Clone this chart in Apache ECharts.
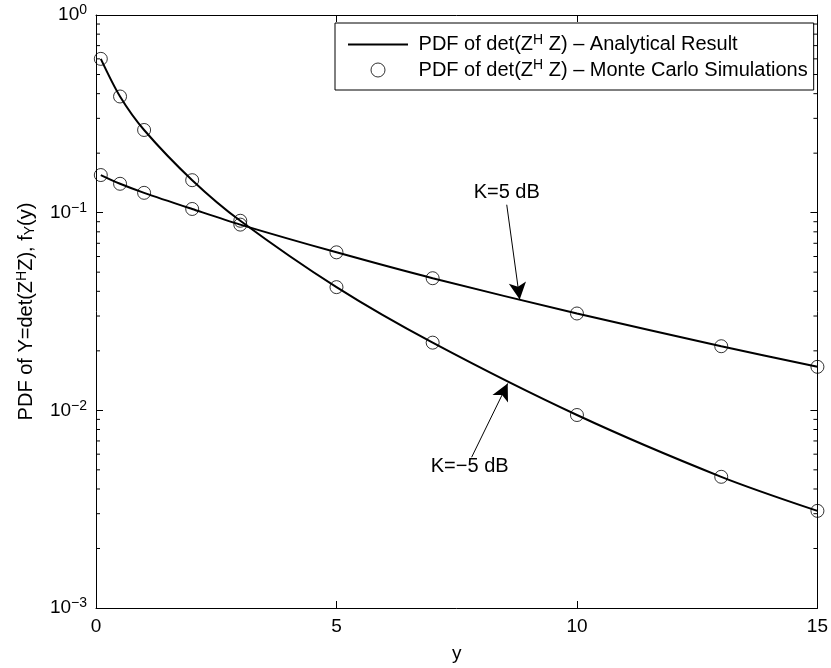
<!DOCTYPE html>
<html>
<head>
<meta charset="utf-8">
<script src="https://cdn.jsdelivr.net/npm/echarts@6/dist/echarts.min.js"></script>
<style>html,body{margin:0;padding:0;background:#fff;}#c{width:831px;height:668px;}</style>
</head>
<body>
<div id="c"></div>
<script>
// ---- data ----
const yPoints = [0.1, 0.5, 1, 2, 3, 5, 7, 10, 13, 15];
const pdfKm5 = [0.600, 0.387, 0.262, 0.146, 0.091, 0.0420, 0.0220, 0.00947, 0.00461, 0.00310];   // K = -5 dB
const pdfKp5 = [0.155, 0.140, 0.126, 0.1044, 0.087, 0.0630, 0.0466, 0.0309, 0.0211, 0.0166];   // K = 5 dB
const xTicks = [0, 5, 10, 15];
const yDecades = [0.001, 0.01, 0.1, 1];
const yMinorTicks = [0.002,0.003,0.004,0.005,0.006,0.007,0.008,0.009,
                     0.02,0.03,0.04,0.05,0.06,0.07,0.08,0.09,
                     0.2,0.3,0.4,0.5,0.6,0.7,0.8,0.9];
const annotations = [
  {text: 'K=5 dB',  label: [8.54, 0.126],  from: [8.54, 0.1097], to: [8.81, 0.0364]},
  {text: 'K=\u22125 dB', label: [7.77, 0.00521], from: [7.81, 0.00579], to: [8.56, 0.01368]}
];

const FONT = 'Liberation Sans, Arial, Helvetica, sans-serif';
const pairs = (xs, ys) => xs.map((x, i) => [x, ys[i]]);
const expOf = v => Math.round(Math.log10(v));

const chart = echarts.init(document.getElementById('c'));
const mkRich = (fs, ss) => ({
  n: {fontSize: fs, fontFamily: FONT, color: '#000'},
  s: {fontSize: ss, fontFamily: FONT, color: '#000', padding: [0, 0, 9, 0]},
  u: {fontSize: ss, fontFamily: FONT, color: '#000', padding: [7, 0, 0, 0]}
});

const lineStyle = {color: '#000', width: 2};
const option = {
  backgroundColor: '#fff',
  animation: false,
  textStyle: {fontFamily: FONT},
  grid: {left: 96, right: 13, top: 15, bottom: 59, containLabel: false},
  legend: {
    orient: 'vertical',
    left: 335, top: 23,
    backgroundColor: '#fff',
    borderColor: '#000', borderWidth: 1,
    padding: [10, 6, 10, 12],
    itemGap: 4,
    itemWidth: 60, itemHeight: 14,
    selectedMode: false,
    textStyle: {fontSize: 20, fontFamily: FONT, color: '#000', rich: mkRich(20, 14)},
    formatter: name => name === 'Analytical'
      ? '{n| PDF of det(Z}{s|H}{n| Z) \u2013 Analytical Result}'
      : '{n| PDF of det(Z}{s|H}{n| Z) \u2013 Monte Carlo Simulations}',
    data: [
      {name: 'Analytical', itemStyle: {color: 'rgba(0,0,0,0)', borderWidth: 0, opacity: 0},
       lineStyle: {color: '#000', width: 2}},
      {name: 'MC', icon: 'circle', itemStyle: {color: '#fff', borderColor: '#000', borderWidth: 1}}
    ]
  },
  xAxis: [{
    type: 'value', min: 0, max: 15, interval: 5,
    name: 'y', nameLocation: 'middle', nameGap: 36,
    nameTextStyle: {fontSize: 19, color: '#000', fontFamily: FONT},
    axisLine: {show: true, onZero: false, lineStyle: {color: '#000', width: 1}},
    axisTick: {inside: true, length: 7, lineStyle: {color: '#000'}},
    axisLabel: {fontSize: 19, color: '#000', margin: 9, fontFamily: FONT},
    splitLine: {show: false}
  }, {
    type: 'value', min: 0, max: 15, interval: 5, position: 'top',
    axisLine: {show: true, onZero: false, lineStyle: {color: '#000', width: 1}},
    axisTick: {inside: true, length: 7, lineStyle: {color: '#000'}},
    axisLabel: {show: false}, splitLine: {show: false}
  }],
  yAxis: [{
    type: 'log', logBase: 10, min: 0.001, max: 1,
    name: '',
    nameLocation: 'middle', nameGap: 58, nameRotate: 90,
    nameTextStyle: {fontSize: 20, color: '#000', fontFamily: FONT, rich: mkRich(20, 14)},
    axisLine: {show: true, onZero: false, lineStyle: {color: '#000', width: 1}},
    axisTick: {inside: true, length: 7, lineStyle: {color: '#000'}},
    axisLabel: {
      margin: 9, rich: mkRich(19, 14),
      formatter: v => {
        const e = expOf(v);
        return '{n|10}{s|' + (e < 0 ? '\u2212' + (-e) : e) + '}';
      }
    },
    splitLine: {show: false}
  }, {
    type: 'log', logBase: 10, min: 0.001, max: 1, position: 'right',
    axisLine: {show: true, onZero: false, lineStyle: {color: '#000', width: 1}},
    axisTick: {inside: true, length: 7, lineStyle: {color: '#000'}},
    axisLabel: {show: false}, splitLine: {show: false}
  }],
  series: [
    {name: 'Analytical', type: 'line', data: pairs(yPoints, pdfKm5), smooth: 0.3,
     symbol: 'none', lineStyle: lineStyle, itemStyle: {color: '#000'}, z: 3},
    {name: 'Analytical', type: 'line', data: pairs(yPoints, pdfKp5), smooth: 0.3,
     symbol: 'none', lineStyle: lineStyle, itemStyle: {color: '#000'}, z: 3},
    {name: 'MC', type: 'scatter', data: pairs(yPoints, pdfKm5), symbol: 'circle', symbolSize: 13,
     itemStyle: {color: 'rgba(0,0,0,0)', borderColor: '#000', borderWidth: 1}, z: 4},
    {name: 'MC', type: 'scatter', data: pairs(yPoints, pdfKp5), symbol: 'circle', symbolSize: 13,
     itemStyle: {color: 'rgba(0,0,0,0)', borderColor: '#000', borderWidth: 1}, z: 4,
     markLine: {
       silent: true, symbol: ['none', 'arrow'], symbolSize: [13, 17],
       lineStyle: {color: '#000', width: 1, type: 'solid'},
       label: {show: false},
       data: annotations.map(a => [{coord: a.from}, {coord: a.to}])
     },
     markPoint: {
       silent: true, symbol: 'circle', symbolSize: 0,
       label: {show: true, position: 'inside', color: '#000', fontSize: 20, fontFamily: FONT,
               formatter: p => p.name},
       data: annotations.map(a => ({name: a.text, coord: a.label}))
     }
    },
    {type: 'custom', name: 'minorTicks', silent: true, clip: false, z: 5,
     data: yMinorTicks.map(v => [0, v]),
     encode: {x: 0, y: 1},
     renderItem: (params, api) => {
       const v = api.value(1);
       const l = api.coord([0, v]);
       const r = api.coord([15, v]);
       return {type: 'group', children: [
         {type: 'line', shape: {x1: l[0], y1: l[1], x2: l[0] + 4, y2: l[1]}, style: {stroke: '#000', lineWidth: 1}},
         {type: 'line', shape: {x1: r[0] - 4, y1: r[1], x2: r[0], y2: r[1]}, style: {stroke: '#000', lineWidth: 1}}
       ]};
     }
    }
  ]
};
option.yAxis[0].name = '{n|PDF of Y=det(Z}{s|H}{n|Z), f}{u|Y}{n|(y)}';
chart.setOption(option);
</script>
</body>
</html>
